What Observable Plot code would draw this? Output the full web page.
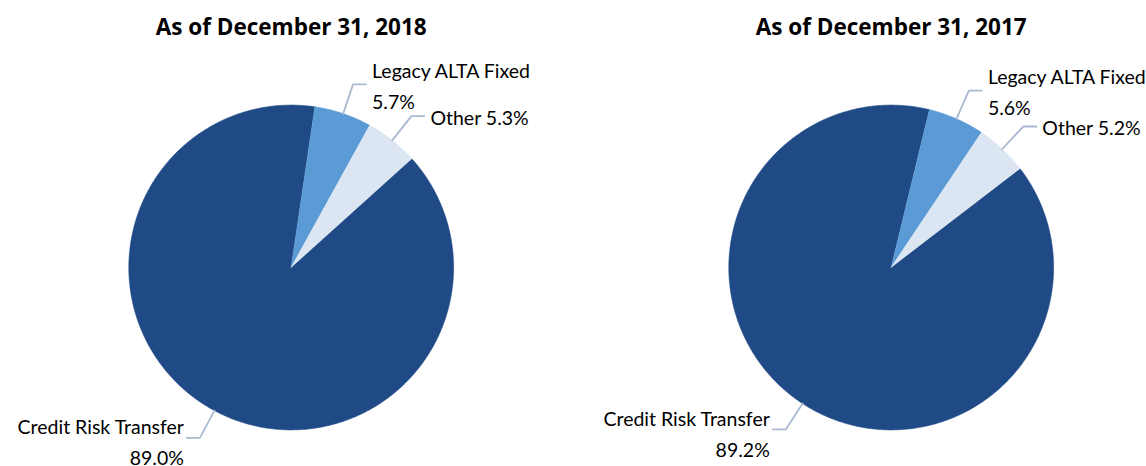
<!DOCTYPE html>
<html><head><meta charset="utf-8">
<script src="https://cdn.jsdelivr.net/npm/d3@7"></script>
<script src="https://cdn.jsdelivr.net/npm/@observablehq/plot@0.6"></script>
<style>
html,body{margin:0;padding:0;background:#fff;overflow:hidden;}
#wrap{display:flex;width:1146px;height:466px;}
#wrap svg{display:block;}
</style></head><body><div id="wrap"></div>
<script>
// ---- data ----
const categories = ["Credit Risk Transfer", "Legacy ALTA Fixed", "Other"];
const titles = ["As of December 31, 2018", "As of December 31, 2017"];
const values2018 = [89.0, 5.7, 5.3];
const values2017 = [89.2, 5.6, 5.2];
const sliceColors = ["#1f4a86", "#5b9bd5", "#dce6f2"];

// ---- layout ----
const W = 573, H = 466, CY = 267, R = 162.4;
const panels = [
  {title: titles[0], values: values2018, cx: 290.7, start: 48},
  {title: titles[1], values: values2017, cx: 317.7, start: 52.5}
];
const leaderColor = "#a9bad0";
const elbowR = 1.19, hLen = 13 / R;

function labelText(name, v) {
  const pct = v.toFixed(1) + "%";
  return name.length > 8 ? name + "\n" + pct : name + " " + pct;
}

function buildPie(p) {
  const pieData = categories.map((c, i) => ({key: c, value: p.values[i], color: sliceColors[i]}));
  const a0 = p.start * Math.PI / 180;
  const arcs = d3.pie().sort(null).value(d => d.value).startAngle(a0).endAngle(a0 + 2 * Math.PI)(pieData);
  const poly = [], leaders = [], labels = [];
  for (const a of arcs) {
    const k = a.data.key;
    poly.push({key: k, color: a.data.color, x: 0, y: 0});
    const n = Math.max(4, Math.ceil((a.endAngle - a.startAngle) / (Math.PI / 360)));
    for (let j = 0; j <= n; j++) {
      const t = a.startAngle + (a.endAngle - a.startAngle) * j / n;
      poly.push({key: k, color: a.data.color, x: Math.sin(t), y: Math.cos(t)});
    }
    const mid = (a.startAngle + a.endAngle) / 2;
    const side = Math.sin(mid) >= 0 ? 1 : -1;
    const ex = elbowR * Math.sin(mid), ey = elbowR * Math.cos(mid);
    leaders.push({key: k, x: Math.sin(mid), y: Math.cos(mid)});
    leaders.push({key: k, x: ex, y: ey});
    leaders.push({key: k, x: ex + side * hLen, y: ey});
    labels.push({key: k, side, x: ex + side * hLen, y: ey, text: labelText(k, a.data.value)});
  }
  return Plot.plot({
    width: W, height: H, margin: 0,
    style: {fontFamily: "Lato, sans-serif", background: "#fff", color: "#000"},
    x: {axis: null, domain: [-p.cx / R, (W - p.cx) / R]},
    y: {axis: null, domain: [-(H - CY) / R, CY / R]},
    color: {type: "identity"},
    marks: [
      Plot.line(poly, {x: "x", y: "y", z: "key", fill: "color", stroke: "color", strokeWidth: 0.6, curve: "linear"}),
      Plot.line(leaders, {x: "x", y: "y", z: "key", stroke: leaderColor, strokeWidth: 1.8}),
      Plot.text(labels.filter(d => d.side > 0), {x: "x", y: "y", text: "text", textAnchor: "start", lineAnchor: "middle", dx: 6, dy: -1, lineHeight: 1.59, fontSize: 19.5, fill: "#000"}),
      Plot.text(labels.filter(d => d.side < 0), {x: "x", y: "y", text: "text", textAnchor: "end", lineAnchor: "middle", dx: -3, dy: 2, lineHeight: 1.59, fontSize: 19.5, fill: "#000"}),
      Plot.text([p.title], {x: () => 0, frameAnchor: "top", text: d => d, dy: 27, lineAnchor: "middle", fontSize: 22.5, fontWeight: "bold", fontFamily: "'Open Sans', sans-serif", fill: "#000"})
    ]
  });
}

const wrap = document.getElementById("wrap");
for (const p of panels) wrap.appendChild(buildPie(p));
</script></body></html>
